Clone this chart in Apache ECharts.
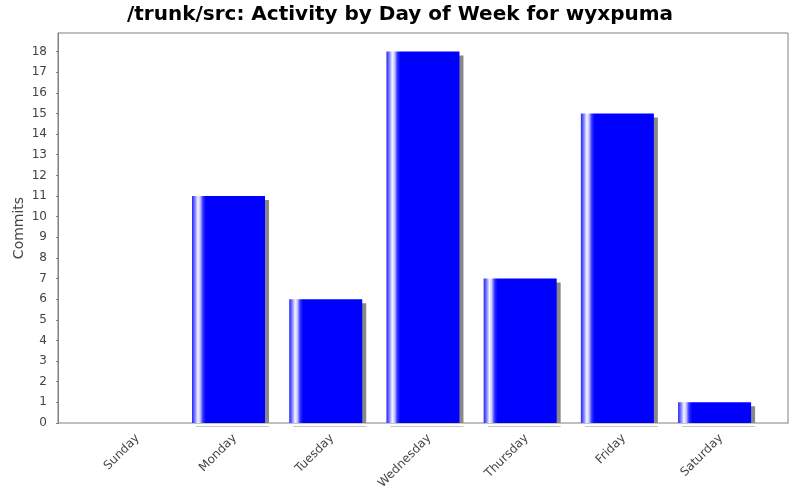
<!DOCTYPE html>
<html>
<head>
<meta charset="utf-8">
<script src="https://cdn.jsdelivr.net/npm/echarts@6/dist/echarts.min.js"></script>
<style>html,body{margin:0;padding:0;background:#fff}#c{width:800px;height:500px}</style>
</head>
<body>
<div id="c"></div>
<script>
var titleText = '/trunk/src: Activity by Day of Week for wyxpuma';
var categories = ['Sunday','Monday','Tuesday','Wednesday','Thursday','Friday','Saturday'];
var commits = [0, 11, 6, 18, 7, 15, 1];
var yTicks = [0,1,2,3,4,5,6,7,8,9,10,11,12,13,14,15,16,17,18];
var yMax = 18.9;

var font = 'DejaVu Sans';
var chart = echarts.init(document.getElementById('c'), null, {renderer:'canvas'});
var barColor = {
  type:'linear', x:0, y:0, x2:1, y2:0,
  colorStops:[
    {offset:0, color:'#2020ff'},
    {offset:0.04, color:'#8080ff'},
    {offset:0.08, color:'#f4f4ff'},
    {offset:0.11, color:'#c8c8ff'},
    {offset:0.15, color:'#3030ff'},
    {offset:0.19, color:'#0000ff'},
    {offset:1, color:'#0000ff'}
  ]
};
chart.setOption({
  backgroundColor:'#ffffff',
  animation:false,
  title:{text:titleText, left:'center', top:0,
    textStyle:{fontFamily:font, fontSize:20, fontWeight:'bold', color:'#000'}},
  grid:[
    {left:58, top:33, width:730, height:390, show:true, borderColor:'#808080', borderWidth:1, backgroundColor:'#fff', outerBoundsMode:'none', containLabel:false},
    {left:82.7, top:33, width:680.5, height:390, show:false, outerBoundsMode:'none', containLabel:false}
  ],
  xAxis:[
    {gridIndex:0, type:'value', min:0, max:1, offset:4,
      axisLine:{show:true, lineStyle:{color:'#808080'}},
      axisTick:{show:false}, axisLabel:{show:false}, splitLine:{show:false}},
    {gridIndex:1, type:'category', data:categories, offset:4,
      axisLine:{show:false},
      axisTick:{show:true, alignWithLabel:true, length:2, lineStyle:{color:'#808080'}},
      axisLabel:{rotate:45, fontFamily:font, fontSize:12, color:'#444444', margin:3,
        verticalAlign:'top', lineHeight:18},
      splitLine:{show:false}}
  ],
  yAxis:[
    {gridIndex:0, type:'value', min:0, max:yMax, offset:4,
      name:'Commits', nameLocation:'middle', nameGap:28, nameMoveOverlap:false,
      nameTextStyle:{fontFamily:font, fontSize:14, color:'#444444'},
      axisLine:{show:true, lineStyle:{color:'#808080'}},
      axisTick:{show:true, length:2, customValues:yTicks, lineStyle:{color:'#808080'}},
      axisLabel:{customValues:yTicks, fontFamily:font, fontSize:12, color:'#444444', margin:7},
      splitLine:{show:false}},
    {gridIndex:1, type:'value', min:0, max:yMax, show:false, splitLine:{show:false}}
  ],
  series:[{
    type:'bar', xAxisIndex:1, yAxisIndex:1, data:commits, barWidth:73,
    itemStyle:{color:barColor, shadowColor:'#888888', shadowOffsetX:4, shadowOffsetY:4, shadowBlur:0}
  }],
  graphic:[{type:'rect', shape:{x:59, y:423.5, width:729, height:3}, style:{fill:'#ffffff'}, z:100}]
});
</script>
</body>
</html>
